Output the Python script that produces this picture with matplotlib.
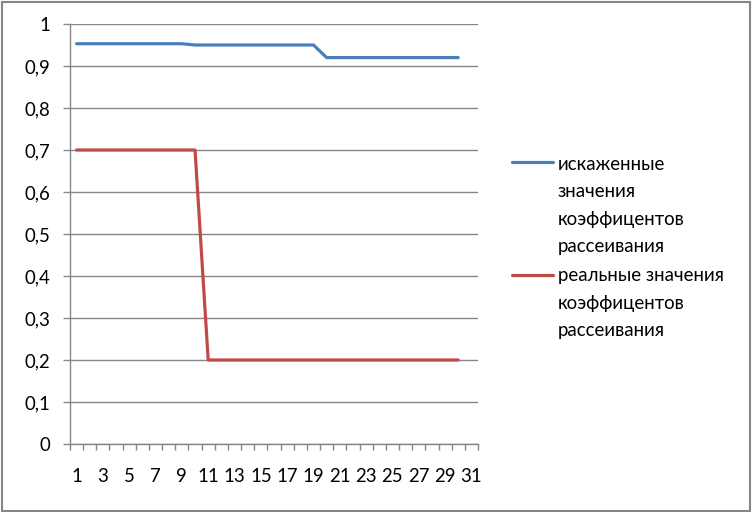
import matplotlib
matplotlib.use("Agg")
import matplotlib.pyplot as plt
from matplotlib.lines import Line2D
from matplotlib.patches import Rectangle

plt.rcParams['font.family'] = ['Lato', 'DejaVu Sans']

x_values = [1, 2, 3, 4, 5, 6, 7, 8, 9, 10, 11, 12, 13, 14, 15, 16, 17, 18, 19, 20,
            21, 22, 23, 24, 25, 26, 27, 28, 29, 30]
distorted = [0.953, 0.953, 0.953, 0.953, 0.953, 0.953, 0.953, 0.953, 0.953,
             0.950, 0.950, 0.950, 0.950, 0.950, 0.950, 0.950, 0.950, 0.950, 0.950,
             0.920, 0.920, 0.920, 0.920, 0.920, 0.920, 0.920, 0.920, 0.920, 0.920, 0.920]
real = [0.7, 0.7, 0.7, 0.7, 0.7, 0.7, 0.7, 0.7, 0.7, 0.7,
        0.2, 0.2, 0.2, 0.2, 0.2, 0.2, 0.2, 0.2, 0.2, 0.2,
        0.2, 0.2, 0.2, 0.2, 0.2, 0.2, 0.2, 0.2, 0.2, 0.2]
n_categories = 31
y_ticks = [0, 0.1, 0.2, 0.3, 0.4, 0.5, 0.6, 0.7, 0.8, 0.9, 1.0]
y_labels = ['0', '0,1', '0,2', '0,3', '0,4', '0,5', '0,6', '0,7', '0,8', '0,9', '1']
series_labels = ['искаженные\nзначения\nкоэффицентов\nрассеивания',
                 'реальные значения\nкоэффицентов\nрассеивания']

blue = '#4A7EBB'
red = '#BE4B48'
gray = '#868686'
fs = 13.4

W, H = 753, 512
fig = plt.figure(figsize=(W / 100, H / 100), dpi=100)
ax = fig.add_axes([70 / W, 1 - 444 / H, (478 - 70) / W, (444 - 24) / H])

ax.plot(x_values, distorted, color=blue, lw=2.3, solid_joinstyle='round', solid_capstyle='round')
ax.plot(x_values, real, color=red, lw=2.3, solid_joinstyle='round', solid_capstyle='round')

ax.set_xlim(0.5, n_categories + 0.5)
ax.set_ylim(0, 1)

ax.set_yticks(y_ticks)
ax.set_yticklabels(y_labels, fontsize=fs)
ax.yaxis.grid(True, color=gray, lw=1)
ax.set_axisbelow(True)

bounds = [i + 0.5 for i in range(n_categories + 1)]
ax.set_xticks(bounds)
ax.set_xticklabels([''] * len(bounds))
odd = list(range(1, n_categories + 1, 2))
ax.set_xticks(odd, minor=True)
ax.set_xticklabels([str(v) for v in odd], minor=True, fontsize=fs)
ax.tick_params(axis='x', which='major', direction='out', length=4.5, width=1, color=gray)
ax.tick_params(axis='x', which='minor', length=0, pad=17.5)
ax.tick_params(axis='y', direction='out', length=5, width=1, color=gray, pad=9)

for s in ['top', 'right']:
    ax.spines[s].set_visible(False)
for s in ['left', 'bottom']:
    ax.spines[s].set_color(gray)
    ax.spines[s].set_linewidth(1)

def fx(px):
    return px / W

def fy(py):
    return 1 - py / H

fig.add_artist(Line2D([fx(512), fx(553)], [fy(162), fy(162)], color=blue, lw=2.3,
                      solid_capstyle='round'))
fig.text(fx(558), fy(155.5), series_labels[0], fontsize=fs, va='top', ha='left',
         linespacing=1.75, color='black')
fig.add_artist(Line2D([fx(512), fx(553)], [fy(275), fy(275)], color=red, lw=2.3,
                      solid_capstyle='round'))
fig.text(fx(558), fy(267), series_labels[1], fontsize=fs, va='top', ha='left',
         linespacing=1.75, color='black')

fig.add_artist(Rectangle((fx(1.5), fy(510.5)), fx(750) - fx(1.5), fy(1.5) - fy(510.5),
                         fill=False, edgecolor=gray, lw=1.5))

fig.savefig('out.png', dpi=100, facecolor='white')
